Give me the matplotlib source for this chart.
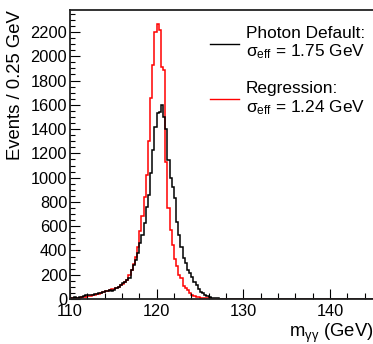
import numpy as np
import matplotlib
matplotlib.use("Agg")
import matplotlib.pyplot as plt
from matplotlib.ticker import MultipleLocator
from matplotlib.lines import Line2D

plt.rcParams['font.family'] = ['Liberation Sans', 'DejaVu Sans']
plt.rcParams['mathtext.fontset'] = 'custom'
plt.rcParams['mathtext.rm'] = 'Liberation Sans'
plt.rcParams['mathtext.it'] = 'Liberation Sans:italic'

# diphoton invariant mass, 0.25 GeV bins from 110 to 145 GeV
bin_lo, bin_hi, bin_w = 110.0, 145.0, 0.25

regression = [
    5, 6, 8, 10, 12, 14, 17, 20,
    24, 28, 32, 36, 40, 45, 52, 56,
    62, 68, 74, 80, 86, 92, 102, 112,
    122, 138, 158, 195, 240, 285, 345, 425,
    560, 680, 840, 1022, 1300, 1655, 1930, 2204,
    2268, 2218, 1910, 1890, 1132, 750, 570, 445,
    330, 270, 200, 170, 108, 88, 74, 52,
    36, 28, 20, 17, 12, 8, 6, 5,
    4, 3, 3, 2, 2, 2, 1, 2,
    1, 1, 2, 1, 1, 0, 1, 1,
    1, 0, 1, 1, 0, 1, 0, 1,
    0, 1, 1, 0, 0, 1, 0, 0,
    1, 0, 0, 1, 0, 0, 0, 1,
    0, 0, 1, 0, 0, 0, 1, 0,
    0, 1, 0, 0, 0, 0, 1, 0,
    0, 0, 0, 1, 0, 0, 0, 0,
    1, 0, 0, 0, 0, 0, 1, 0,
    0, 0, 0, 0,
]

photon_default = [
    8, 10, 14, 12, 20, 19, 28, 33,
    30, 33, 36, 40, 45, 50, 52, 55,
    62, 70, 74, 65, 74, 90, 101, 115,
    130, 143, 160, 171, 239, 280, 321, 379,
    459, 530, 630, 761, 857, 1036, 1230, 1420,
    1530, 1544, 1600, 1503, 1400, 1146, 1000, 926,
    832, 637, 527, 430, 335, 294, 239, 212,
    184, 143, 115, 80, 60, 47, 33, 25,
    14, 10, 8, 6, 5, 4, 3, 4,
    3, 2, 3, 2, 2, 3, 1, 2,
    2, 1, 2, 1, 1, 2, 1, 1,
    1, 2, 1, 1, 0, 1, 1, 1,
    1, 0, 1, 1, 1, 0, 1, 0,
    1, 1, 0, 1, 0, 1, 0, 1,
    0, 1, 1, 0, 1, 0, 0, 1,
    1, 0, 1, 0, 0, 1, 0, 1,
    0, 1, 0, 0, 1, 0, 0, 1,
    0, 1, 0, 0,
]

legend_titles = ["Photon Default:", "Regression:"]
sigma_eff = [1.75, 1.24]
colors = ["black", "#ff0000"]

edges = np.arange(bin_lo, bin_hi + bin_w / 2, bin_w)

W, H = 373, 344
fig = plt.figure(figsize=(W / 100, H / 100), dpi=100)
ax = fig.add_axes([70 / W, (H - 299) / H, (373.3 - 70) / W, (299 - 10) / H])

ax.stairs(regression, edges, color=colors[1], lw=1.1)
ax.stairs(photon_default, edges, color=colors[0], lw=1.1)

ax.set_xlim(bin_lo, bin_hi)
ax.set_ylim(0, 1.05 * max(regression))

ax.xaxis.set_major_locator(MultipleLocator(10))
ax.xaxis.set_minor_locator(MultipleLocator(2))
ax.yaxis.set_major_locator(MultipleLocator(200))
ax.yaxis.set_minor_locator(MultipleLocator(50))

ax.tick_params(which='both', direction='in', width=0.8, labelsize=11.8, color='black')
ax.tick_params(axis='x', which='major', length=7, pad=3.5)
ax.tick_params(axis='x', which='minor', length=4)
ax.tick_params(axis='y', which='major', length=7, pad=2.0)
ax.tick_params(axis='y', which='minor', length=3.5)

for side in ['left', 'bottom', 'top']:
    ax.spines[side].set_linewidth(1.3)
    ax.spines[side].set_color('#222222')
ax.spines['right'].set_visible(False)

fig.text(16 / W, 1 - 10 / H, "Events / 0.25 GeV", rotation=90,
         ha='center', va='top', fontsize=13.3)
fig.text(373 / W, 1 - 337 / H, r"m$_{\mathregular{\gamma\gamma}}$ (GeV)",
         ha='right', va='baseline', fontsize=13.3)

# legend entries
line_y = [44, 99.3]
title_base = [38.3, 92.7]
sig_base = [56.7, 112.7]
for title, sig, col, ly, tb, sb in zip(legend_titles, sigma_eff, colors,
                                        line_y, title_base, sig_base):
    fig.add_artist(Line2D([210 / W, 239 / W], [1 - ly / H, 1 - ly / H],
                          color=col, lw=1.0, transform=fig.transFigure))
    fig.text(246 / W, 1 - tb / H, title, ha='left', va='baseline', fontsize=12.4)
    fig.text(246 / W, 1 - sb / H,
             r"$\mathregular{\sigma}_{\mathregular{eff}}$" + f" = {sig:.2f} GeV",
             ha='left', va='baseline', fontsize=12.4)

fig.savefig("out.png", dpi=100)
